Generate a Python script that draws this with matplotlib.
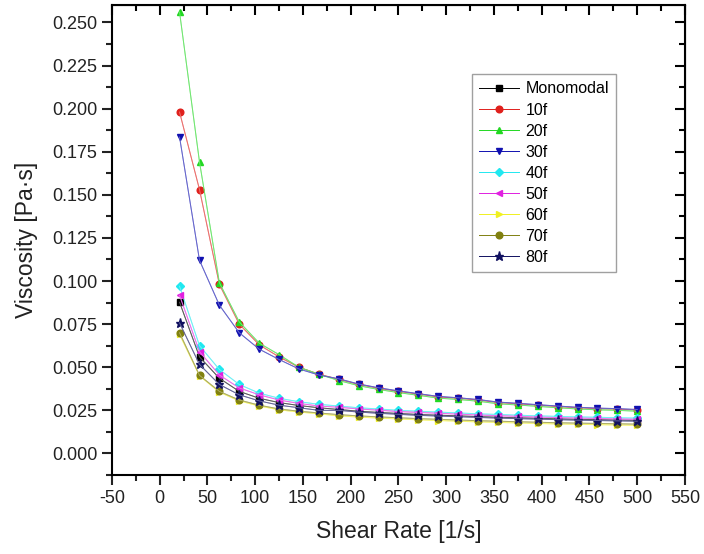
import matplotlib
matplotlib.use("Agg")
import matplotlib.pyplot as plt
import numpy as np

plt.rcParams["font.family"] = ["Liberation Sans", "DejaVu Sans"]
plt.rcParams["axes.unicode_minus"] = False

# shear rate steps (1/s)
shear_rate = [20.8, 41.7, 62.5, 83.3, 104.2, 125.0, 145.8, 166.7,
              187.5, 208.3, 229.2, 250.0, 270.8, 291.7, 312.5, 333.3,
              354.2, 375.0, 395.8, 416.7, 437.5, 458.3, 479.2, 500.0]

mono = [0.0877, 0.0560, 0.0436, 0.0360, 0.0320, 0.0295, 0.0278, 0.0265,
        0.0255, 0.0245, 0.0238, 0.0232, 0.0226, 0.0222, 0.0218, 0.0214,
        0.0210, 0.0207, 0.0204, 0.0201, 0.0198, 0.0196, 0.0194, 0.0192]
f10 = [0.1980, 0.1530, 0.0980, 0.0750, 0.0630, 0.0560, 0.0500, 0.0460,
       0.0430, 0.0400, 0.0378, 0.0360, 0.0344, 0.0328, 0.0320, 0.0310,
       0.0295, 0.0288, 0.0280, 0.0272, 0.0265, 0.0260, 0.0257, 0.0252]
f20 = [0.2560, 0.1690, 0.0990, 0.0763, 0.0640, 0.0573, 0.0500, 0.0459,
       0.0423, 0.0393, 0.0371, 0.0353, 0.0337, 0.0321, 0.0313, 0.0303,
       0.0288, 0.0281, 0.0273, 0.0265, 0.0258, 0.0253, 0.0250, 0.0245]
f30 = [0.1835, 0.1120, 0.0860, 0.0700, 0.0605, 0.0545, 0.0490, 0.0455,
       0.0433, 0.0403, 0.0381, 0.0363, 0.0347, 0.0331, 0.0323, 0.0313,
       0.0298, 0.0291, 0.0283, 0.0275, 0.0268, 0.0263, 0.0260, 0.0255]
f40 = [0.0970, 0.0625, 0.0487, 0.0400, 0.0350, 0.0320, 0.0300, 0.0285,
       0.0275, 0.0265, 0.0258, 0.0250, 0.0245, 0.0240, 0.0235, 0.0230,
       0.0226, 0.0222, 0.0218, 0.0215, 0.0212, 0.0210, 0.0207, 0.0205]
f50 = [0.0917, 0.0590, 0.0455, 0.0380, 0.0340, 0.0310, 0.0290, 0.0275,
       0.0268, 0.0258, 0.0251, 0.0243, 0.0238, 0.0233, 0.0228, 0.0223,
       0.0219, 0.0215, 0.0211, 0.0208, 0.0205, 0.0203, 0.0200, 0.0198]
f60 = [0.0690, 0.0450, 0.0355, 0.0305, 0.0275, 0.0253, 0.0240, 0.0230,
       0.0218, 0.0211, 0.0205, 0.0200, 0.0195, 0.0191, 0.0187, 0.0183,
       0.0180, 0.0177, 0.0174, 0.0171, 0.0169, 0.0167, 0.0165, 0.0163]
f70 = [0.0700, 0.0453, 0.0360, 0.0310, 0.0280, 0.0258, 0.0245, 0.0235,
       0.0225, 0.0218, 0.0212, 0.0207, 0.0202, 0.0198, 0.0194, 0.0190,
       0.0187, 0.0184, 0.0181, 0.0178, 0.0176, 0.0174, 0.0172, 0.0170]
f80 = [0.0757, 0.0516, 0.0400, 0.0340, 0.0305, 0.0280, 0.0265, 0.0250,
       0.0250, 0.0240, 0.0233, 0.0227, 0.0221, 0.0217, 0.0213, 0.0209,
       0.0205, 0.0202, 0.0199, 0.0196, 0.0193, 0.0191, 0.0189, 0.0187]

series = [
    ("Monomodal", mono, "#000000", "s"),
    ("10f", f10, "#e0201c", "o"),
    ("20f", f20, "#22d822", "^"),
    ("30f", f30, "#1010b0", "v"),
    ("40f", f40, "#20e8f0", "D"),
    ("50f", f50, "#e020e0", "<"),
    ("60f", f60, "#f0f020", ">"),
    ("70f", f70, "#808010", "o"),
    ("80f", f80, "#101060", "*"),
]

fig = plt.figure(figsize=(7.04, 5.54), dpi=100)
ax = fig.add_axes([0.159, 0.1426, 0.814, 0.848])

for name, vals, col, mk in series:
    ms = 6.5 if mk == "*" else 4.8
    if mk == "D":
        ms = 4.2
    line, = ax.plot(shear_rate, vals, color=col, lw=0.7, marker=mk, ms=ms,
                    mec=col, mfc=col, label=name)
    # connecting lines look paler than the symbols
    ax.plot(shear_rate, vals, color="white", lw=0.7, alpha=0.35, zorder=line.get_zorder())

ax.set_xlim(-50, 550)
ax.set_ylim(-0.01, 0.26)
ax.set_xticks(np.arange(-50, 551, 50))
ax.set_yticks(np.arange(0, 0.2501, 0.025))
ax.set_xticks(np.arange(-25, 550, 50), minor=True)
ax.set_yticks(np.arange(-0.0125, 0.26, 0.025), minor=True)
ax.yaxis.set_major_formatter(matplotlib.ticker.FormatStrFormatter("%.3f"))

for s in ax.spines.values():
    s.set_linewidth(1.5)
ax.tick_params(which="both", direction="out", width=1.5, labelsize=13,
               colors="#222222")
ax.tick_params(which="major", length=7)
ax.tick_params(which="minor", length=4)
# inward ticks on the top and right frame
ax2 = ax.secondary_xaxis("top")
ax2.set_xticks(np.arange(-50, 551, 50))
ax2.set_xticks(np.arange(-25, 550, 50), minor=True)
ax2.tick_params(which="both", direction="in", width=1.5, labeltop=False)
ax2.tick_params(which="major", length=7)
ax2.tick_params(which="minor", length=4)
ay2 = ax.secondary_yaxis("right")
ay2.set_yticks(np.arange(0, 0.2501, 0.025))
ay2.set_yticks(np.arange(-0.0125, 0.26, 0.025), minor=True)
ay2.tick_params(which="both", direction="in", width=1.5, labelright=False)
ay2.tick_params(which="major", length=7)
ay2.tick_params(which="minor", length=4)

ax.set_xlabel("Shear Rate [1/s]", fontsize=16.5, labelpad=10, color="#222222")
ax.set_ylabel("Viscosity [Pa\u00b7s]", fontsize=16.5, labelpad=10, color="#222222")

leg = ax.legend(loc="upper left", bbox_to_anchor=(0.628, 0.853), fontsize=11.5,
                frameon=True, fancybox=False, handlelength=2.5,
                borderpad=0.45, labelspacing=0.38, handletextpad=0.4,
                borderaxespad=0)
leg.get_frame().set_edgecolor("#888888")
leg.get_frame().set_linewidth(1.0)

fig.savefig("out.png", dpi=100)
